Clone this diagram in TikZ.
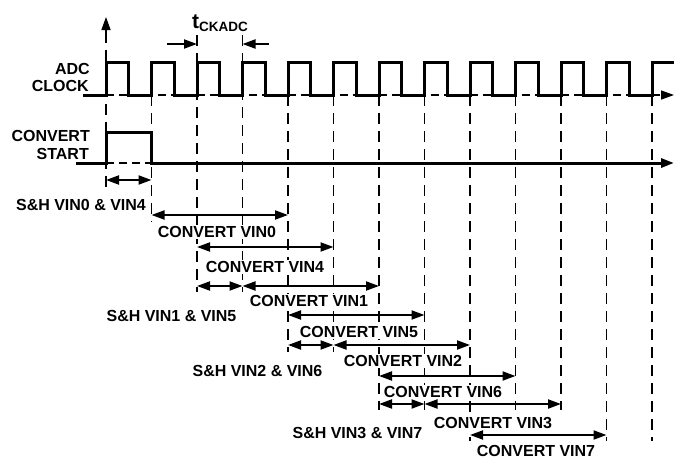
\documentclass[tikz,border=0pt]{standalone}
\usepackage{fontspec}
\setmainfont{Liberation Sans}
\usetikzlibrary{arrows.meta}
\begin{document}
\begin{tikzpicture}[x=1pt,y=-1pt,
  font=\fontsize{16}{17}\selectfont\bfseries,
  wave/.style={line width=3pt, line join=miter},
  vdash/.style={line width=1.4pt, dash pattern=on 11pt off 7pt},
  hdash/.style={line width=1.4pt, dash pattern=on 8pt off 5pt},
  dbl/.style={line width=2pt, {Triangle[length=13pt,width=9pt]}-{Triangle[length=13pt,width=9pt]}},
  tipped/.style={-{Triangle[length=13pt,width=9pt]}},
  lab/.style={inner sep=0pt, text height=11.5pt, text depth=0pt},
  blab/.style={lab, fill=white, inner xsep=2pt, inner ysep=1pt}
]
\useasboundingbox (0,0) rectangle (674,459);

% clock rising-edge coordinates and dashed line ends
\foreach \k/\e in {0/187,1/222,2/292,3/292,4/352,5/352,6/410,7/410,8/441,9/410,10/410,11/441,12/441}{
  \coordinate (v\k) at ({106+45.5*\k},95);
  \coordinate (e\k) at ({106+45.5*\k},\e);
}
\coordinate (axtop) at (106,17);
\coordinate (axmid) at (106,32);
\path (v2) ++(0,-60) coordinate (m2);
\path (v3) ++(0,-60) coordinate (m3);

% dashed verticals
\foreach \k in {1,4,5,6,7,8,9,10,11,12}{ \draw[vdash] (v\k) -- (e\k); }
\draw[vdash] (m2) -- (e2);
\draw[vdash] (m3) -- (e3);
\draw[vdash] (e0) -- (axmid);
\draw[line width=1.4pt, tipped] (axmid) -- (axtop);

% t_CKADC marker
\path (m2) ++(0,9) coordinate (ta);
\path (m3) ++(0,9) coordinate (tb);
\draw[line width=2pt, tipped] (ta) ++(-30,0) -- (ta);
\draw[line width=2pt, tipped] (tb) ++(26,0) -- (tb);
\node[anchor=base west, inner sep=0pt] (tck) at (192,28)
  {{\fontsize{21}{21}\selectfont t}\raisebox{-3.5pt}{\fontsize{13.5}{13.5}\selectfont CKADC}};

% ADC clock
\coordinate (clkstart) at (83,95);
\coordinate (clkend) at (674,62);
\coordinate (clkarrow) at (674,95);
\draw[hdash, tipped] (v0) -- (clkarrow);
\draw[wave] (clkstart) -- (v0)
  \foreach \k in {0,...,11}{ -- ++(0,-33) -- ++(22.75,0) -- ++(0,33) -- ++(22.75,0) }
  -- ++(0,-33) -- (clkend);

% convert start
\coordinate (csstart) at (76,163);
\coordinate (cs0) at (106,163);
\coordinate (cs1) at (151.5,163);
\coordinate (csend) at (674,163);
\draw[hdash] (cs0) -- (cs1);
\draw[wave, tipped] (csstart) -- (cs0) -- ++(0,-31) -- ++(45.5,0) -- (cs1) -- (csend);

% left labels
\node[lab, anchor=east] (adc) at (90,69) {ADC};
\node[lab, anchor=east] (clk) at (89,86) {CLOCK};
\node[lab, anchor=east] (cvt) at (90,136) {CONVERT};
\node[lab, anchor=east] (st) at (89,154) {START};

% interval arrows
\foreach \a/\b/\y in {0/1/180, 1/4/215, 2/5/247, 2/3/286, 3/6/286, 4/7/315, 4/5/345, 5/8/345, 6/9/376, 6/7/404, 7/10/404, 8/11/435}{
  \coordinate (s-\a-\b-\y) at ({106+45.5*\a},\y);
  \coordinate (t-\a-\b-\y) at ({106+45.5*\b},\y);
  \draw[dbl] (s-\a-\b-\y) -- (t-\a-\b-\y);
}

% interval labels
\node[blab] (sh0) at (81,205) {S\&H VIN0 \& VIN4};
\node[blab] (sh1) at (171.5,316) {S\&H VIN1 \& VIN5};
\node[blab] (sh2) at (257.5,371) {S\&H VIN2 \& VIN6};
\node[blab] (sh3) at (357.5,433) {S\&H VIN3 \& VIN7};
\node[blab] (c0) at (217,232) {CONVERT VIN0};
\node[blab] (c4) at (265,267) {CONVERT VIN4};
\node[blab] (c1) at (309,301) {CONVERT VIN1};
\node[blab] (c5) at (359,332) {CONVERT VIN5};
\node[blab] (c2) at (403,361) {CONVERT VIN2};
\node[blab] (c6) at (443,392) {CONVERT VIN6};
\node[blab] (c3) at (493,423) {CONVERT VIN3};
\node[blab] (c7) at (536,450.5) {CONVERT VIN7};
\end{tikzpicture}
\end{document}
